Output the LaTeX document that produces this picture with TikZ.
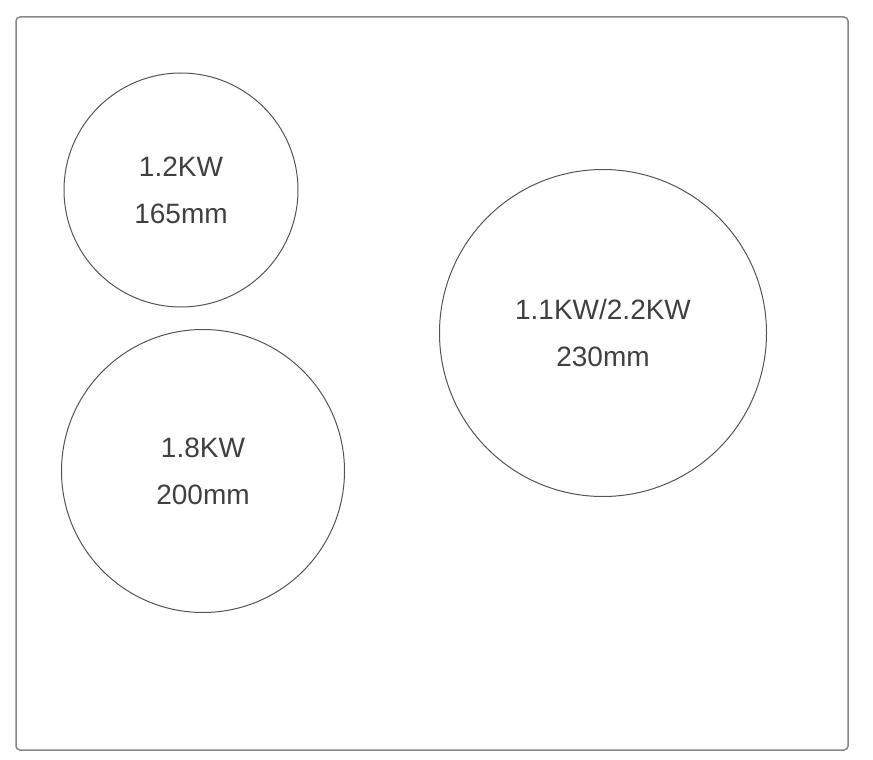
\documentclass[tikz,border=0pt]{standalone}
\usepackage{fontspec}
\setmainfont{Liberation Sans}
\definecolor{hobframe}{rgb}{0.53,0.53,0.53}
\definecolor{hobring}{rgb}{0.33,0.33,0.33}
\definecolor{hobtext}{rgb}{0.25,0.25,0.25}

\begin{document}
\begin{tikzpicture}[x=1pt,y=-1pt,
	zone/.style={circle,draw=hobring,line width=1pt,text=hobtext,align=center,
		font=\fontsize{28}{47}\selectfont,inner sep=0pt}]
\useasboundingbox (0,0) rectangle (873,760);
\draw [line width=1.5pt,draw=hobframe,rounded corners=4pt] (16,17) rectangle (848,750);

\node[zone,minimum size=234pt] (Z1) at (181,190) {1.2KW\\165mm};
\node[zone,minimum size=283pt] (Z2) at (203,471) {1.8KW\\200mm};
\node[zone,minimum size=327pt] (Z3) at (603,333) {1.1KW/2.2KW\\230mm};

\end{tikzpicture}
\end{document}
